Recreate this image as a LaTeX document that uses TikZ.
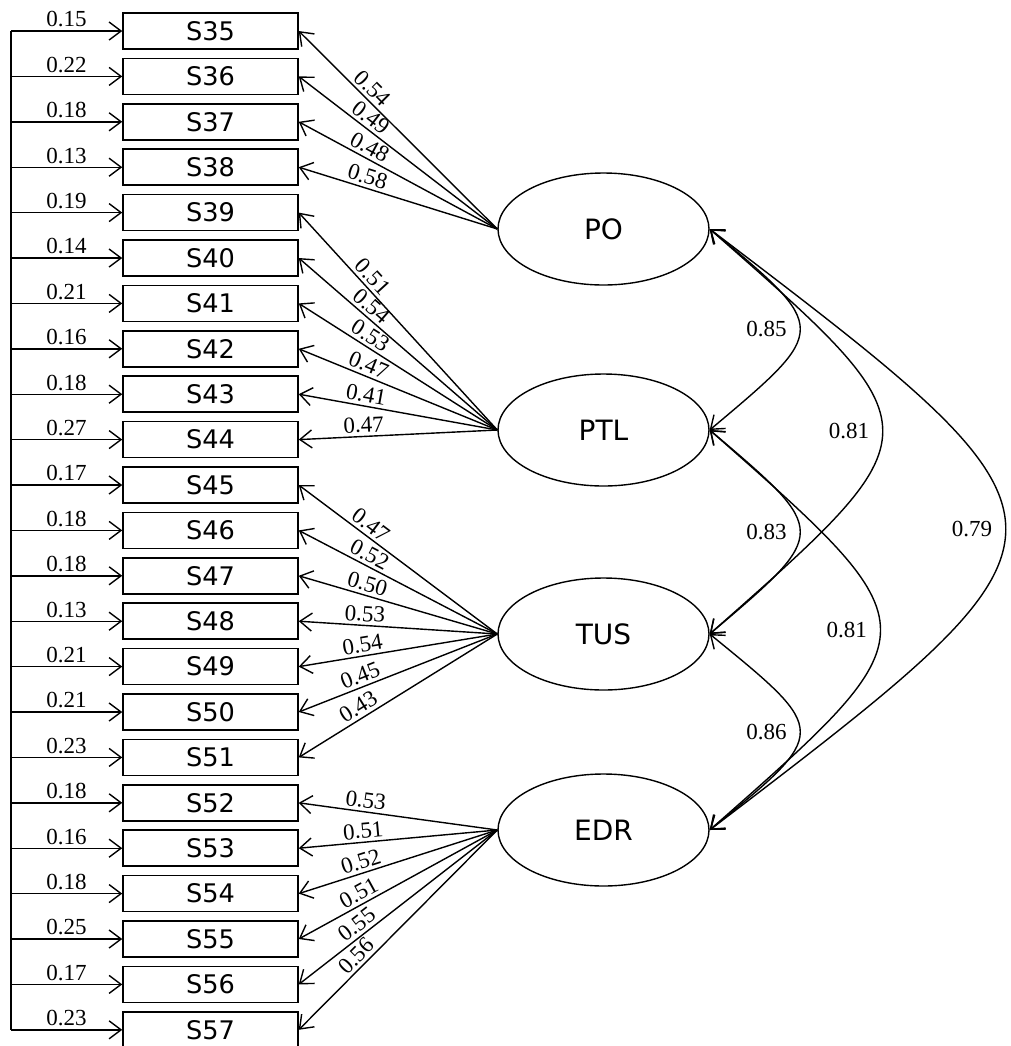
\documentclass[tikz,border=0pt]{standalone}
\usepackage{fontspec}
\setmainfont{Liberation Serif}
\newfontfamily\cajafont{DejaVu Sans}
\usetikzlibrary{shapes.geometric, arrows.meta}

\begin{document}
\begin{tikzpicture}[x=0.5pt, y=-0.5pt,
    caja/.style={draw, line width=0.75pt, minimum width=87.5pt, minimum height=18pt, inner sep=0pt, font=\cajafont\fontsize{12.8}{12.8}\selectfont},
    factor/.style={ellipse, draw, line width=0.7pt, minimum width=105.5pt, minimum height=56pt, inner sep=0pt, font=\cajafont\fontsize{14}{14}\selectfont},
    flecha/.style={line width=0.7pt, -{Straight Barb[length=6pt, width=9pt]}},
    doble/.style={line width=0.7pt, {Straight Barb[length=6pt, width=9pt]}-{Straight Barb[length=6pt, width=9pt]}},
    err/.style={midway, above, inner sep=1.5pt, font=\fontsize{11.5}{11.5}\selectfont},
    carga/.style={pos=0.67, sloped, above, inner sep=1.5pt, font=\fontsize{11.5}{11.5}\selectfont},
    corr/.style={pos=0.5, left, xshift=-3pt, font=\fontsize{11.5}{11.5}\selectfont}]
    \useasboundingbox (0,0) rectangle (1011,1046);
    % indicadores
    \node[caja] (s35) at (210.5, 31) {S35};
    \node[caja] (s36) at (210.5, 76.4) {S36};
    \node[caja] (s37) at (210.5, 121.8) {S37};
    \node[caja] (s38) at (210.5, 167.2) {S38};
    \node[caja] (s39) at (210.5, 212.6) {S39};
    \node[caja] (s40) at (210.5, 258) {S40};
    \node[caja] (s41) at (210.5, 303.4) {S41};
    \node[caja] (s42) at (210.5, 348.8) {S42};
    \node[caja] (s43) at (210.5, 394.2) {S43};
    \node[caja] (s44) at (210.5, 439.6) {S44};
    \node[caja] (s45) at (210.5, 485) {S45};
    \node[caja] (s46) at (210.5, 530.4) {S46};
    \node[caja] (s47) at (210.5, 575.8) {S47};
    \node[caja] (s48) at (210.5, 621.2) {S48};
    \node[caja] (s49) at (210.5, 666.6) {S49};
    \node[caja] (s50) at (210.5, 712) {S50};
    \node[caja] (s51) at (210.5, 757.4) {S51};
    \node[caja] (s52) at (210.5, 802.8) {S52};
    \node[caja] (s53) at (210.5, 848.2) {S53};
    \node[caja] (s54) at (210.5, 893.6) {S54};
    \node[caja] (s55) at (210.5, 939) {S55};
    \node[caja] (s56) at (210.5, 984.4) {S56};
    \node[caja] (s57) at (210.5, 1029.8) {S57};
    % factores
    \node[factor] (po) at (603.5, 229) {PO};
    \node[factor] (ptl) at (603.5, 430) {PTL};
    \node[factor] (tus) at (603.5, 634) {TUS};
    \node[factor] (edr) at (603.5, 830) {EDR};
    % errores
    \coordinate (e35) at (11, 31);
    \coordinate (e36) at (11, 76.4);
    \coordinate (e37) at (11, 121.8);
    \coordinate (e38) at (11, 167.2);
    \coordinate (e39) at (11, 212.6);
    \coordinate (e40) at (11, 258);
    \coordinate (e41) at (11, 303.4);
    \coordinate (e42) at (11, 348.8);
    \coordinate (e43) at (11, 394.2);
    \coordinate (e44) at (11, 439.6);
    \coordinate (e45) at (11, 485);
    \coordinate (e46) at (11, 530.4);
    \coordinate (e47) at (11, 575.8);
    \coordinate (e48) at (11, 621.2);
    \coordinate (e49) at (11, 666.6);
    \coordinate (e50) at (11, 712);
    \coordinate (e51) at (11, 757.4);
    \coordinate (e52) at (11, 802.8);
    \coordinate (e53) at (11, 848.2);
    \coordinate (e54) at (11, 893.6);
    \coordinate (e55) at (11, 939);
    \coordinate (e56) at (11, 984.4);
    \coordinate (e57) at (11, 1029.8);
    \draw[line width=0.7pt] (e35) -- (e57);
    \draw[flecha] (e35) -- node[err] {0.15} (s35);
    \draw[flecha] (e36) -- node[err] {0.22} (s36);
    \draw[flecha] (e37) -- node[err] {0.18} (s37);
    \draw[flecha] (e38) -- node[err] {0.13} (s38);
    \draw[flecha] (e39) -- node[err] {0.19} (s39);
    \draw[flecha] (e40) -- node[err] {0.14} (s40);
    \draw[flecha] (e41) -- node[err] {0.21} (s41);
    \draw[flecha] (e42) -- node[err] {0.16} (s42);
    \draw[flecha] (e43) -- node[err] {0.18} (s43);
    \draw[flecha] (e44) -- node[err] {0.27} (s44);
    \draw[flecha] (e45) -- node[err] {0.17} (s45);
    \draw[flecha] (e46) -- node[err] {0.18} (s46);
    \draw[flecha] (e47) -- node[err] {0.18} (s47);
    \draw[flecha] (e48) -- node[err] {0.13} (s48);
    \draw[flecha] (e49) -- node[err] {0.21} (s49);
    \draw[flecha] (e50) -- node[err] {0.21} (s50);
    \draw[flecha] (e51) -- node[err] {0.23} (s51);
    \draw[flecha] (e52) -- node[err] {0.18} (s52);
    \draw[flecha] (e53) -- node[err] {0.16} (s53);
    \draw[flecha] (e54) -- node[err] {0.18} (s54);
    \draw[flecha] (e55) -- node[err] {0.25} (s55);
    \draw[flecha] (e56) -- node[err] {0.17} (s56);
    \draw[flecha] (e57) -- node[err] {0.23} (s57);
    % cargas PO
    \draw[flecha] (po.west) -- node[carga] {0.54} (s35.east);
    \draw[flecha] (po.west) -- node[carga] {0.49} (s36.east);
    \draw[flecha] (po.west) -- node[carga] {0.48} (s37.east);
    \draw[flecha] (po.west) -- node[carga] {0.58} (s38.east);
    % cargas PTL
    \draw[flecha] (ptl.west) -- node[carga] {0.51} (s39.east);
    \draw[flecha] (ptl.west) -- node[carga] {0.54} (s40.east);
    \draw[flecha] (ptl.west) -- node[carga] {0.53} (s41.east);
    \draw[flecha] (ptl.west) -- node[carga] {0.47} (s42.east);
    \draw[flecha] (ptl.west) -- node[carga] {0.41} (s43.east);
    \draw[flecha] (ptl.west) -- node[carga] {0.47} (s44.east);
    % cargas TUS
    \draw[flecha] (tus.west) -- node[carga] {0.47} (s45.east);
    \draw[flecha] (tus.west) -- node[carga] {0.52} (s46.east);
    \draw[flecha] (tus.west) -- node[carga] {0.50} (s47.east);
    \draw[flecha] (tus.west) -- node[carga] {0.53} (s48.east);
    \draw[flecha] (tus.west) -- node[carga] {0.54} (s49.east);
    \draw[flecha] (tus.west) -- node[carga] {0.45} (s50.east);
    \draw[flecha] (tus.west) -- node[carga] {0.43} (s51.east);
    % cargas EDR
    \draw[flecha] (edr.west) -- node[carga] {0.53} (s52.east);
    \draw[flecha] (edr.west) -- node[carga] {0.51} (s53.east);
    \draw[flecha] (edr.west) -- node[carga] {0.52} (s54.east);
    \draw[flecha] (edr.west) -- node[carga] {0.51} (s55.east);
    \draw[flecha] (edr.west) -- node[carga] {0.55} (s56.east);
    \draw[flecha] (edr.west) -- node[carga] {0.56} (s57.east);
    % correlaciones entre factores
    \draw[doble] (po.east) .. controls (830, 329) and (830, 329) .. (ptl.east) node[corr] {0.85};
    \draw[doble] (po.east) .. controls (940, 431) and (940, 431) .. (tus.east) node[corr] {0.81};
    \draw[doble] (po.east) .. controls (1104, 529) and (1104, 529) .. (edr.east) node[corr] {0.79};
    \draw[doble] (ptl.east) .. controls (830, 532) and (830, 532) .. (tus.east) node[corr] {0.83};
    \draw[doble] (ptl.east) .. controls (937, 630) and (937, 630) .. (edr.east) node[corr] {0.81};
    \draw[doble] (tus.east) .. controls (830, 732) and (830, 732) .. (edr.east) node[corr] {0.86};
\end{tikzpicture}
\end{document}
